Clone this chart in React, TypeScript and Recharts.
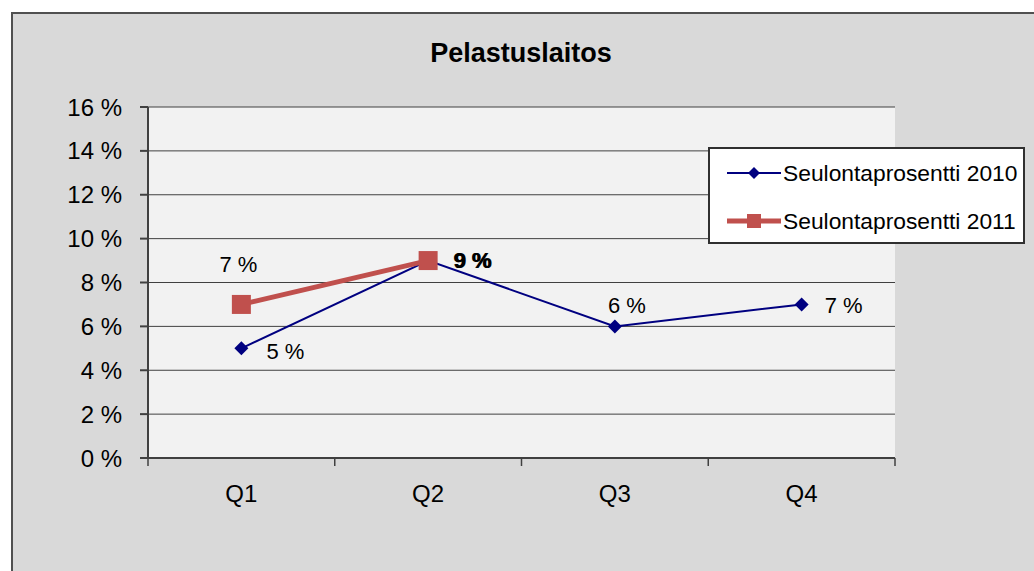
import { CartesianGrid, LabelList, Line, LineChart, XAxis, YAxis } from "recharts";

const quarters = ["Q1", "Q2", "Q3", "Q4"];
const rate2010 = [5, 9, 6, 7];
const rate2011: (number | null)[] = [7, 9, null, null];
const yTicks = [0, 2, 4, 6, 8, 10, 12, 14, 16];
const seriesNames = ["Seulontaprosentti 2010", "Seulontaprosentti 2011"];

const FONT = "'Liberation Sans', Arial, sans-serif";
const NAVY = "#000080";
const RED = "#c0504d";

const data = quarters.map((q, i) => ({ q, s2010: rate2010[i], s2011: rate2011[i] }));

// label placement per point (style only)
const place2010 = [
  { dx: 25, dy: 3, anchor: "start" },
  { dx: 25, dy: 0, anchor: "start", bold: true },
  { dx: 12, dy: -21, anchor: "middle" },
  { dx: 23, dy: 1, anchor: "start" },
];
const place2011 = [
  { dx: -3, dy: -40, anchor: "middle" },
  { dx: 26, dy: 0, anchor: "start", bold: true },
];

const makeLabel = (places: any[]) => (props: any) => {
  const { x, y, value, index } = props;
  if (value == null || !places[index]) return null;
  const p = places[index];
  return (
    <text
      x={x + p.dx}
      y={y + p.dy}
      textAnchor={p.anchor}
      dominantBaseline="central"
      fontSize={22}
      fontFamily={FONT}
      fontWeight={p.bold ? "bold" : "normal"}
      fill="#000"
    >
      {`${value} %`}
    </text>
  );
};

const Diamond = (props: any) => {
  const { cx, cy } = props;
  if (cx == null || cy == null) return null;
  const r = 7;
  return <polygon points={`${cx},${cy - r} ${cx + r},${cy} ${cx},${cy + r} ${cx - r},${cy}`} fill={NAVY} />;
};

const Square = (props: any) => {
  const { cx, cy } = props;
  if (cx == null || cy == null) return null;
  const s = 19;
  return <rect x={cx - s / 2} y={cy - s / 2} width={s} height={s} fill={RED} />;
};

const XTick = (props: any) => {
  const { x, y, payload, index } = props;
  const half = typeof payload?.offset === "number" && payload.offset > 0 ? payload.offset : 93.4;
  return (
    <g>
      <line x1={x - half} x2={x - half} y1={y - 8} y2={y} stroke="#404040" strokeWidth={1.5} />
      {index === quarters.length - 1 && (
        <line x1={x + half} x2={x + half} y1={y - 8} y2={y} stroke="#404040" strokeWidth={1.5} />
      )}
      <text x={x} y={y + 27} textAnchor="middle" dominantBaseline="central" fontSize={24} fontFamily={FONT} fill="#000">
        {payload.value}
      </text>
    </g>
  );
};

const LegendBox = () => (
  <div
    style={{
      position: "absolute",
      left: 708,
      top: 147,
      width: 317,
      height: 97,
      boxSizing: "border-box",
      background: "#fff",
      border: "2px solid #303030",
      fontFamily: FONT,
      fontSize: 22.8,
      color: "#000",
    }}
  >
    {seriesNames.map((name, i) => {
      const top = i === 0 ? 24 : 72;
      return (
        <div key={name} style={{ position: "absolute", left: 15, top: top - 14, height: 28, display: "flex", alignItems: "center" }}>
          <svg width={56} height={28}>
            {i === 0 ? (
              <>
                <line x1={2} x2={56} y1={14} y2={14} stroke={NAVY} strokeWidth={2} />
                <polygon points="29,8 35,14 29,20 23,14" fill={NAVY} />
              </>
            ) : (
              <>
                <line x1={2} x2={56} y1={14} y2={14} stroke={RED} strokeWidth={5} />
                <rect x={22} y={7} width={14} height={14} fill={RED} />
              </>
            )}
          </svg>
          <span style={{ marginLeft: 2, whiteSpace: "nowrap" }}>{name}</span>
        </div>
      );
    })}
  </div>
);

export default function App() {
  return (
    <div style={{ position: "fixed", left: 0, top: 0, width: 1034, height: 571, overflow: "hidden", background: "#fff" }}>
      <div
        style={{
          position: "absolute",
          left: 11,
          top: 12,
          width: 1040,
          height: 580,
          background: "#d9d9d9",
          border: "2px solid #505050",
        }}
      />
      <div
        style={{
          position: "absolute",
          left: 0,
          width: 1042,
          top: 38,
          textAlign: "center",
          fontFamily: FONT,
          fontWeight: "bold",
          fontSize: 27,
          color: "#000",
          lineHeight: "30px",
        }}
      >
        Pelastuslaitos
      </div>
      <div style={{ position: "absolute", left: 0, top: 0 }}>
        <LineChart width={1034} height={571} data={data} margin={{ top: 107, right: 139, bottom: 53, left: 48 }}>
          <CartesianGrid vertical={false} stroke="#404040" fill="#f2f2f2" fillOpacity={1} />
          <XAxis
            dataKey="q"
            scale="band"
            height={60}
            stroke="#404040"
            strokeWidth={2}
            tickLine={false}
            tickSize={8}
            tickMargin={0}
            interval={0}
            tick={<XTick />}
          />
          <XAxis xAxisId="top" dataKey="q" scale="band" orientation="top" height={0} tick={false} tickLine={false} stroke="#8a8a8a" strokeWidth={2} />
          <YAxis
            domain={[0, 16]}
            ticks={yTicks}
            width={100}
            interval={0}
            stroke="#404040"
            strokeWidth={2}
            tickSize={8}
            tickMargin={18}
            tickFormatter={(v: number) => `${v} %`}
            tick={{ fill: "#000", fontSize: 24, fontFamily: FONT }}
          />
          <YAxis yAxisId="right" orientation="right" width={0} domain={[0, 16]} tick={false} tickLine={false} stroke="#8a8a8a" strokeWidth={2} />
          <Line
            dataKey="s2010"
            name={seriesNames[0]}
            stroke={NAVY}
            strokeWidth={2}
            dot={<Diamond />}
            activeDot={false}
            isAnimationActive={false}
          >
            <LabelList dataKey="s2010" content={makeLabel(place2010)} />
          </Line>
          <Line
            dataKey="s2011"
            name={seriesNames[1]}
            stroke={RED}
            strokeWidth={5}
            dot={<Square />}
            activeDot={false}
            connectNulls={false}
            isAnimationActive={false}
          >
            <LabelList dataKey="s2011" content={makeLabel(place2011)} />
          </Line>
        </LineChart>
      </div>
      <LegendBox />
    </div>
  );
}
